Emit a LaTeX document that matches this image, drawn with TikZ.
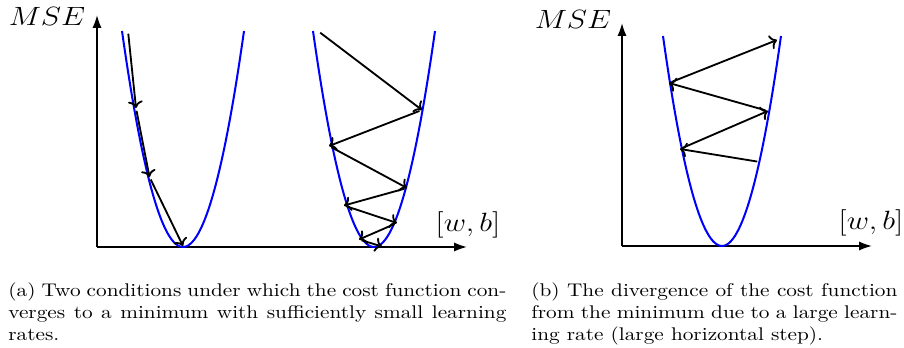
\documentclass[tikz,border=0pt]{standalone}
\usepackage{amsmath}
\usepackage{graphicx}
\usetikzlibrary{arrows.meta,positioning,calc}
\newcommand{\hwide}[1]{\scalebox{1.16}[1]{#1}}

\begin{document}
\begin{tikzpicture}[
    x=0.545pt, y=-0.545pt, >=To,
    ax/.style={line width=1pt, -{Latex[length=7pt,width=5pt]}},
    cost/.style={blue, line width=1.1pt},
    gd/.style={->, line width=1pt, shorten <=1.5pt},
    lbl/.style={font=\Large, inner sep=0pt},
    captext/.style={anchor=north west, inner sep=0pt, font=\normalsize}
]
\useasboundingbox (0,0) rectangle (904,348);

% (a) two parabolas, converging steps
\coordinate (oa) at (97,247);
\coordinate (ya) at (97,15);
\coordinate (xa) at (467,247);
\draw[ax] (oa) -- (ya);
\draw[ax] (oa) -- (xa);
\node[lbl] (msea) at (47,16) {\hwide{$MSE$}};
\node[lbl] (wba)  at (468,225) {\hwide{$[w,b]$}};

\draw[cost] plot[domain=122:244, samples=60] (\x,{247-216*((\x-183)/61)^2});
\draw[cost] plot[domain=313:435, samples=60] (\x,{247-216*((\x-374)/61)^2});

\coordinate (p0) at (128,31);
\coordinate (p1) at (136,108);
\coordinate (p2) at (149.5,177);
\coordinate (p3) at (183,246);
\draw[gd] (p0) -- (p1);  \draw[gd] (p1) -- (p2);  \draw[gd] (p2) -- (p3);

\coordinate (q0) at (318,31);
\coordinate (q1) at (422,110);
\coordinate (q2) at (329,146);
\coordinate (q3) at (407,188);
\coordinate (q4) at (344,205.5);
\coordinate (q5) at (397,223);
\coordinate (q6) at (359,239.5);
\coordinate (q7) at (382,246.5);
\draw[gd] (q0) -- (q1);  \draw[gd] (q1) -- (q2);  \draw[gd] (q2) -- (q3);
\draw[gd] (q3) -- (q4);  \draw[gd] (q4) -- (q5);  \draw[gd] (q5) -- (q6);
\draw[gd] (q6) -- (q7);

% (b) diverging steps
\coordinate (ob) at (622,246);
\coordinate (yb) at (622,23);
\coordinate (xb) at (872,246);
\draw[ax] (ob) -- (yb);
\draw[ax] (ob) -- (xb);
\node[lbl] (mseb) at (573,19) {\hwide{$MSE$}};
\node[lbl] (wbb)  at (871,223) {\hwide{$[w,b]$}};

\draw[cost] plot[domain=663:781, samples=60] (\x,{246-210*((\x-722)/59)^2});

\coordinate (r0) at (760,162);
\coordinate (r1) at (680,149);
\coordinate (r2) at (768,111);
\coordinate (r3) at (669,83);
\coordinate (r4) at (777,40);
\draw[gd] (r0) -- (r1);  \draw[gd] (r1) -- (r2);  \draw[gd] (r2) -- (r3);
\draw[gd] (r3) -- (r4);

% captions
\node[captext] (capa) at (8,282) {\hwide{\parbox[t]{234pt}{%
  (a) Two conditions under which the cost function con-\linebreak
  verges to a minimum with sufficiently small learning\linebreak rates.}}};
\node[captext] (capb) at (531,282) {\hwide{\parbox[t]{172pt}{%
  (b) The divergence of the cost function\linebreak
  from the minimum due to a large learn-\linebreak ing rate (large horizontal step).}}};
\end{tikzpicture}
\end{document}
